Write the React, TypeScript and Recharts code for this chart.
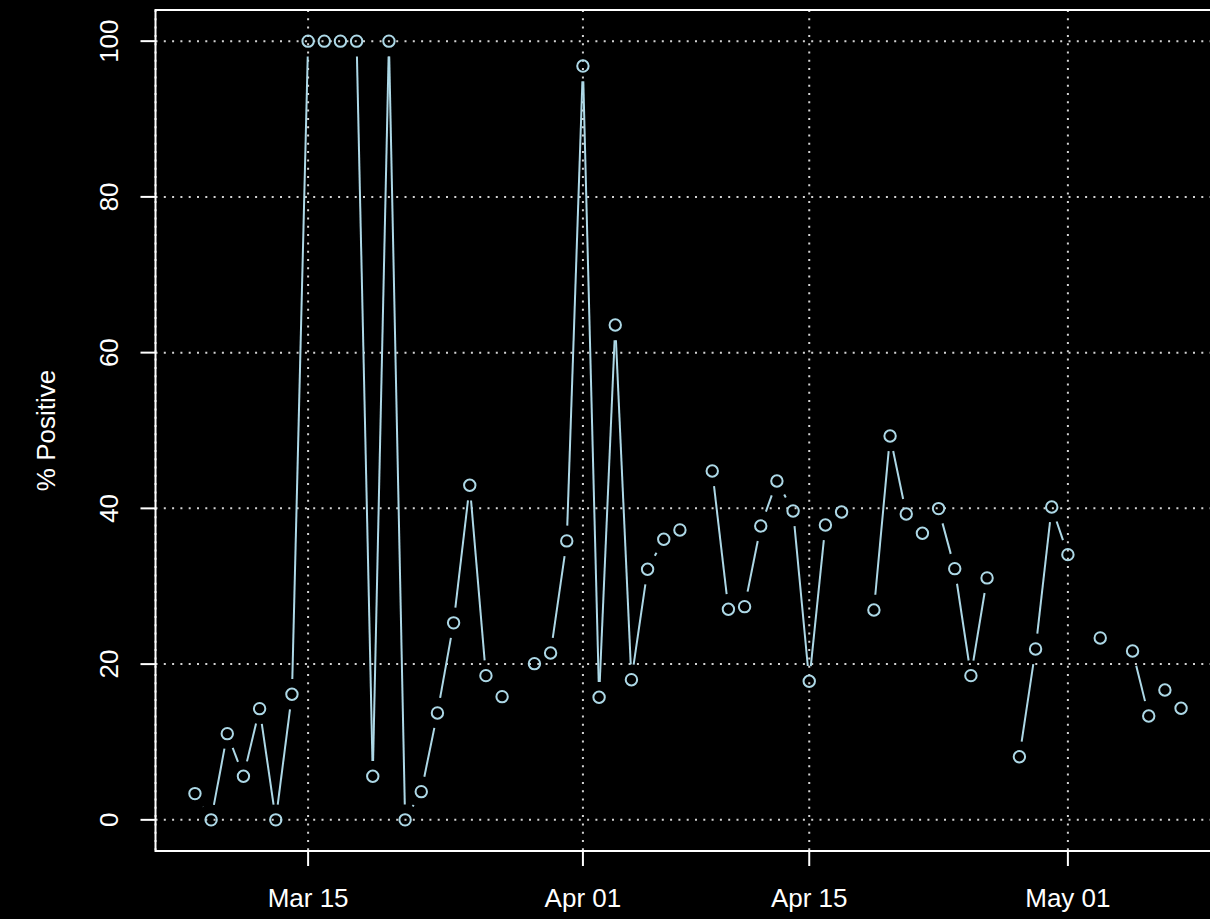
import React from 'react';
import { LineChart, Line, XAxis, YAxis, CartesianGrid, ReferenceArea } from 'recharts';

// ---- data ----
const dates: string[] = [
  '2020-03-08', '2020-03-09', '2020-03-10', '2020-03-11', '2020-03-12', '2020-03-13', '2020-03-14',
  '2020-03-15', '2020-03-16', '2020-03-17', '2020-03-18', '2020-03-19', '2020-03-20', '2020-03-21',
  '2020-03-22', '2020-03-23', '2020-03-24', '2020-03-25', '2020-03-26', '2020-03-27', '2020-03-28',
  '2020-03-29', '2020-03-30', '2020-03-31', '2020-04-01', '2020-04-02', '2020-04-03', '2020-04-04',
  '2020-04-05', '2020-04-06', '2020-04-07', '2020-04-08', '2020-04-09', '2020-04-10', '2020-04-11',
  '2020-04-12', '2020-04-13', '2020-04-14', '2020-04-15', '2020-04-16', '2020-04-17', '2020-04-18',
  '2020-04-19', '2020-04-20', '2020-04-21', '2020-04-22', '2020-04-23', '2020-04-24', '2020-04-25',
  '2020-04-26', '2020-04-27', '2020-04-28', '2020-04-29', '2020-04-30', '2020-05-01', '2020-05-02',
  '2020-05-03', '2020-05-04', '2020-05-05', '2020-05-06', '2020-05-07', '2020-05-08',
];

const pctPositive: (number | null)[] = [
  3.37, 0, 11.07, 5.6, 14.28, 0, 16.13,
  100, 100, 100, 100, 5.6, 100, 0,
  3.62, 13.73, 25.3, 42.97, 18.52, 15.82, null,
  20.06, 21.43, 35.82, 96.8, 15.74, 63.55, 18.0,
  32.18, 36.03, 37.23, null, 44.8, 27.04, 27.38,
  37.74, 43.52, 39.67, 17.8, 37.87, 39.54, null,
  26.95, 49.3, 39.28, 36.8, 39.97, 32.26, 18.52,
  31.07, null, 8.1, 21.95, 40.18, 34.06, null,
  23.36, null, 21.69, 13.34, 16.68, 14.33,
];

const xTickDates: string[] = ['2020-03-15', '2020-04-01', '2020-04-15', '2020-05-01'];
const xTickLabels: string[] = ['Mar 15', 'Apr 01', 'Apr 15', 'May 01'];
const yTicks: number[] = [0, 20, 40, 60, 80, 100];
const yLabel = '% Positive';

// ---- derived ----
const DAY = 86400000;
const t0 = Date.parse(dates[0]);
const dayNum = (d: string) => (Date.parse(d) - t0) / DAY;

const chartData = dates.map((d, i) => ({ t: dayNum(d), v: pctPositive[i] }));
const xTicks = xTickDates.map(dayNum);
const xLabelMap: Record<number, string> = {};
xTicks.forEach((t, i) => { xLabelMap[t] = xTickLabels[i]; });

const tMin = Math.min(...chartData.map((d) => d.t));
const tMax = Math.max(...chartData.map((d) => d.t));
const xPad = (tMax - tMin) * 0.04;
const xDomain: [number, number] = [tMin - xPad, tMax + xPad];
const yPad = (100 - 0) * 0.04;
const yDomain: [number, number] = [0 - yPad, 100 + yPad];

// ---- styles ----
const FONT = '"Liberation Sans", Arial, Helvetica, sans-serif';
const POINT_COLOR = '#ADD8E6';
const GAP = 15.3;

const renderDot = (props: any) => {
  const { cx, cy, index, points } = props;
  const key = `dot-${index}`;
  if (cx == null || cy == null || !Number.isFinite(cx) || !Number.isFinite(cy)) {
    return <g key={key} />;
  }
  let seg: React.ReactNode = null;
  const next = points ? points[index + 1] : null;
  if (next && next.y != null && Number.isFinite(next.y) && next.value != null) {
    const dx = next.x - cx;
    const dy = next.y - cy;
    const L = Math.hypot(dx, dy);
    if (L > 2 * GAP) {
      const ux = dx / L;
      const uy = dy / L;
      seg = (
        <line
          x1={cx + ux * GAP}
          y1={cy + uy * GAP}
          x2={next.x - ux * GAP}
          y2={next.y - uy * GAP}
          stroke={POINT_COLOR}
          strokeWidth={2}
        />
      );
    }
  }
  return (
    <g key={key}>
      {seg}
      <circle cx={cx} cy={cy} r={5.7} fill="none" stroke={POINT_COLOR} strokeWidth={2} />
    </g>
  );
};

const YTick = (props: any) => {
  const { x, y, payload } = props;
  return (
    <text
      x={x}
      y={y}
      transform={`rotate(-90 ${x} ${y})`}
      textAnchor="middle"
      fill="#ffffff"
      fontSize={26}
      fontFamily={FONT}
    >
      {payload.value}
    </text>
  );
};

const YLabel = () => (
  <text
    x={55}
    y={430.5}
    transform="rotate(-90 55 430.5)"
    textAnchor="middle"
    fill="#ffffff"
    fontSize={26}
    fontFamily={FONT}
  >
    {yLabel}
  </text>
);

export default function App() {
  return (
    <div
      style={{
        position: 'fixed',
        left: 0,
        top: 0,
        width: 1210,
        height: 919,
        overflow: 'hidden',
        background: '#000000',
      }}
    >
      <style>{'html,body{overflow:hidden;background:#000;}'}</style>
      <LineChart
        width={1240}
        height={919}
        data={chartData}
        margin={{ top: 10, right: 19.5, bottom: 0, left: 0 }}
        style={{ background: '#000000' }}
      >
        <CartesianGrid stroke="#D3D3D3" strokeDasharray="2 6.3" strokeWidth={2} />
        <XAxis
          type="number"
          dataKey="t"
          domain={xDomain}
          allowDataOverflow
          ticks={xTicks}
          interval={0}
          tickFormatter={(t: number) => xLabelMap[t] ?? ''}
          height={68}
          axisLine={false}
          tickSize={15}
          tickMargin={23}
          tickLine={{ stroke: '#ffffff', strokeWidth: 2 }}
          tick={{ fill: '#ffffff', fontSize: 26, fontFamily: FONT }}
        />
        <YAxis
          type="number"
          domain={yDomain}
          allowDataOverflow
          ticks={yTicks}
          interval={0}
          width={155.5}
          axisLine={false}
          tickSize={15}
          tickMargin={22}
          tickLine={{ stroke: '#ffffff', strokeWidth: 2 }}
          tick={<YTick />}
          label={{ content: <YLabel /> }}
        />
        <ReferenceArea
          x1={xDomain[0]}
          x2={xDomain[1]}
          y1={yDomain[0]}
          y2={yDomain[1]}
          fill="none"
          fillOpacity={0}
          stroke="#ffffff"
          strokeWidth={2}
          ifOverflow="visible"
        />
        <Line
          type="linear"
          dataKey="v"
          stroke="none"
          connectNulls={false}
          isAnimationActive={false}
          dot={renderDot}
          activeDot={false}
        />
      </LineChart>
    </div>
  );
}
